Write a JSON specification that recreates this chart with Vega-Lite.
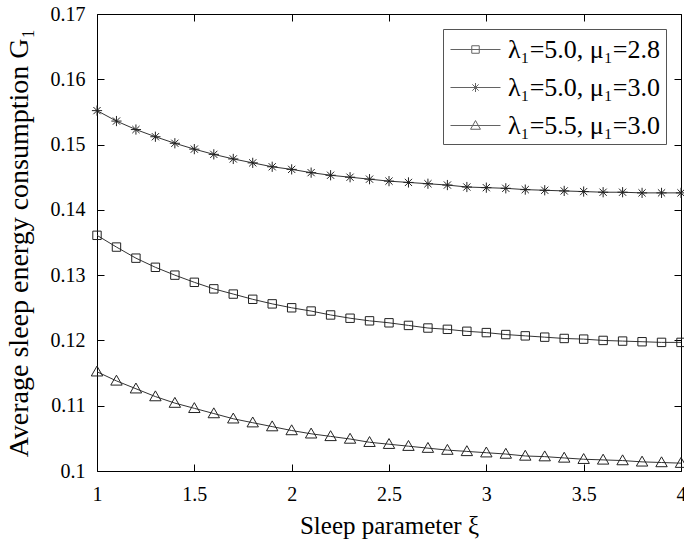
{
  "$schema": "https://vega.github.io/schema/vega-lite/v6.json",
  "width": 584,
  "height": 457,
  "autosize": "none",
  "padding": {"left": 97, "top": 14, "right": 3, "bottom": 72},
  "background": "white",
  "config": {
    "view": {"stroke": "black", "strokeWidth": 1},
    "font": "Liberation Serif",
    "axis": {
      "domain": false,
      "grid": false,
      "tickColor": "black",
      "tickSize": -7,
      "tickWidth": 1,
      "labelFont": "Liberation Serif",
      "labelFontSize": 20,
      "labelColor": "black",
      "titleFont": "Liberation Serif",
      "titleFontSize": 24,
      "titleFontWeight": "normal",
      "titleColor": "black"
    }
  },
  "datasets": {
    "rows": [
      {"x": 1.0, "series": "λ₁=5.0, μ₁=3.0", "g": 0.1552},
      {"x": 1.1, "series": "λ₁=5.0, μ₁=3.0", "g": 0.1536},
      {"x": 1.2, "series": "λ₁=5.0, μ₁=3.0", "g": 0.1523},
      {"x": 1.3, "series": "λ₁=5.0, μ₁=3.0", "g": 0.1512},
      {"x": 1.4, "series": "λ₁=5.0, μ₁=3.0", "g": 0.1502},
      {"x": 1.5, "series": "λ₁=5.0, μ₁=3.0", "g": 0.1493},
      {"x": 1.6, "series": "λ₁=5.0, μ₁=3.0", "g": 0.1485},
      {"x": 1.7, "series": "λ₁=5.0, μ₁=3.0", "g": 0.1478},
      {"x": 1.8, "series": "λ₁=5.0, μ₁=3.0", "g": 0.1472},
      {"x": 1.9, "series": "λ₁=5.0, μ₁=3.0", "g": 0.1466},
      {"x": 2.0, "series": "λ₁=5.0, μ₁=3.0", "g": 0.1462},
      {"x": 2.1, "series": "λ₁=5.0, μ₁=3.0", "g": 0.1457},
      {"x": 2.2, "series": "λ₁=5.0, μ₁=3.0", "g": 0.1453},
      {"x": 2.3, "series": "λ₁=5.0, μ₁=3.0", "g": 0.1450},
      {"x": 2.4, "series": "λ₁=5.0, μ₁=3.0", "g": 0.1447},
      {"x": 2.5, "series": "λ₁=5.0, μ₁=3.0", "g": 0.1444},
      {"x": 2.6, "series": "λ₁=5.0, μ₁=3.0", "g": 0.1442},
      {"x": 2.7, "series": "λ₁=5.0, μ₁=3.0", "g": 0.1440},
      {"x": 2.8, "series": "λ₁=5.0, μ₁=3.0", "g": 0.1438},
      {"x": 2.9, "series": "λ₁=5.0, μ₁=3.0", "g": 0.1435},
      {"x": 3.0, "series": "λ₁=5.0, μ₁=3.0", "g": 0.1434},
      {"x": 3.1, "series": "λ₁=5.0, μ₁=3.0", "g": 0.1433},
      {"x": 3.2, "series": "λ₁=5.0, μ₁=3.0", "g": 0.1431},
      {"x": 3.3, "series": "λ₁=5.0, μ₁=3.0", "g": 0.1430},
      {"x": 3.4, "series": "λ₁=5.0, μ₁=3.0", "g": 0.1429},
      {"x": 3.5, "series": "λ₁=5.0, μ₁=3.0", "g": 0.1428},
      {"x": 3.6, "series": "λ₁=5.0, μ₁=3.0", "g": 0.1427},
      {"x": 3.7, "series": "λ₁=5.0, μ₁=3.0", "g": 0.1427},
      {"x": 3.8, "series": "λ₁=5.0, μ₁=3.0", "g": 0.1426},
      {"x": 3.9, "series": "λ₁=5.0, μ₁=3.0", "g": 0.1426},
      {"x": 4.0, "series": "λ₁=5.0, μ₁=3.0", "g": 0.1426},
      {"x": 1.0, "series": "λ₁=5.0, μ₁=2.8", "g": 0.1361},
      {"x": 1.1, "series": "λ₁=5.0, μ₁=2.8", "g": 0.1343},
      {"x": 1.2, "series": "λ₁=5.0, μ₁=2.8", "g": 0.1326},
      {"x": 1.3, "series": "λ₁=5.0, μ₁=2.8", "g": 0.1312},
      {"x": 1.4, "series": "λ₁=5.0, μ₁=2.8", "g": 0.1300},
      {"x": 1.5, "series": "λ₁=5.0, μ₁=2.8", "g": 0.1289},
      {"x": 1.6, "series": "λ₁=5.0, μ₁=2.8", "g": 0.1279},
      {"x": 1.7, "series": "λ₁=5.0, μ₁=2.8", "g": 0.1271},
      {"x": 1.8, "series": "λ₁=5.0, μ₁=2.8", "g": 0.1263},
      {"x": 1.9, "series": "λ₁=5.0, μ₁=2.8", "g": 0.1256},
      {"x": 2.0, "series": "λ₁=5.0, μ₁=2.8", "g": 0.1250},
      {"x": 2.1, "series": "λ₁=5.0, μ₁=2.8", "g": 0.1245},
      {"x": 2.2, "series": "λ₁=5.0, μ₁=2.8", "g": 0.1239},
      {"x": 2.3, "series": "λ₁=5.0, μ₁=2.8", "g": 0.1234},
      {"x": 2.4, "series": "λ₁=5.0, μ₁=2.8", "g": 0.1230},
      {"x": 2.5, "series": "λ₁=5.0, μ₁=2.8", "g": 0.1227},
      {"x": 2.6, "series": "λ₁=5.0, μ₁=2.8", "g": 0.1223},
      {"x": 2.7, "series": "λ₁=5.0, μ₁=2.8", "g": 0.1219},
      {"x": 2.8, "series": "λ₁=5.0, μ₁=2.8", "g": 0.1217},
      {"x": 2.9, "series": "λ₁=5.0, μ₁=2.8", "g": 0.1214},
      {"x": 3.0, "series": "λ₁=5.0, μ₁=2.8", "g": 0.1212},
      {"x": 3.1, "series": "λ₁=5.0, μ₁=2.8", "g": 0.1209},
      {"x": 3.2, "series": "λ₁=5.0, μ₁=2.8", "g": 0.1207},
      {"x": 3.3, "series": "λ₁=5.0, μ₁=2.8", "g": 0.1205},
      {"x": 3.4, "series": "λ₁=5.0, μ₁=2.8", "g": 0.1203},
      {"x": 3.5, "series": "λ₁=5.0, μ₁=2.8", "g": 0.1202},
      {"x": 3.6, "series": "λ₁=5.0, μ₁=2.8", "g": 0.1200},
      {"x": 3.7, "series": "λ₁=5.0, μ₁=2.8", "g": 0.1199},
      {"x": 3.8, "series": "λ₁=5.0, μ₁=2.8", "g": 0.1198},
      {"x": 3.9, "series": "λ₁=5.0, μ₁=2.8", "g": 0.1197},
      {"x": 4.0, "series": "λ₁=5.0, μ₁=2.8", "g": 0.1197},
      {"x": 1.0, "series": "λ₁=5.5, μ₁=3.0", "g": 0.1152},
      {"x": 1.1, "series": "λ₁=5.5, μ₁=3.0", "g": 0.1138},
      {"x": 1.2, "series": "λ₁=5.5, μ₁=3.0", "g": 0.1126},
      {"x": 1.3, "series": "λ₁=5.5, μ₁=3.0", "g": 0.1114},
      {"x": 1.4, "series": "λ₁=5.5, μ₁=3.0", "g": 0.1104},
      {"x": 1.5, "series": "λ₁=5.5, μ₁=3.0", "g": 0.1096},
      {"x": 1.6, "series": "λ₁=5.5, μ₁=3.0", "g": 0.1088},
      {"x": 1.7, "series": "λ₁=5.5, μ₁=3.0", "g": 0.1080},
      {"x": 1.8, "series": "λ₁=5.5, μ₁=3.0", "g": 0.1074},
      {"x": 1.9, "series": "λ₁=5.5, μ₁=3.0", "g": 0.1068},
      {"x": 2.0, "series": "λ₁=5.5, μ₁=3.0", "g": 0.1062},
      {"x": 2.1, "series": "λ₁=5.5, μ₁=3.0", "g": 0.1057},
      {"x": 2.2, "series": "λ₁=5.5, μ₁=3.0", "g": 0.1053},
      {"x": 2.3, "series": "λ₁=5.5, μ₁=3.0", "g": 0.1049},
      {"x": 2.4, "series": "λ₁=5.5, μ₁=3.0", "g": 0.1044},
      {"x": 2.5, "series": "λ₁=5.5, μ₁=3.0", "g": 0.1041},
      {"x": 2.6, "series": "λ₁=5.5, μ₁=3.0", "g": 0.1038},
      {"x": 2.7, "series": "λ₁=5.5, μ₁=3.0", "g": 0.1035},
      {"x": 2.8, "series": "λ₁=5.5, μ₁=3.0", "g": 0.1032},
      {"x": 2.9, "series": "λ₁=5.5, μ₁=3.0", "g": 0.1030},
      {"x": 3.0, "series": "λ₁=5.5, μ₁=3.0", "g": 0.1028},
      {"x": 3.1, "series": "λ₁=5.5, μ₁=3.0", "g": 0.1026},
      {"x": 3.2, "series": "λ₁=5.5, μ₁=3.0", "g": 0.1023},
      {"x": 3.3, "series": "λ₁=5.5, μ₁=3.0", "g": 0.1022},
      {"x": 3.4, "series": "λ₁=5.5, μ₁=3.0", "g": 0.1020},
      {"x": 3.5, "series": "λ₁=5.5, μ₁=3.0", "g": 0.1018},
      {"x": 3.6, "series": "λ₁=5.5, μ₁=3.0", "g": 0.1017},
      {"x": 3.7, "series": "λ₁=5.5, μ₁=3.0", "g": 0.1016},
      {"x": 3.8, "series": "λ₁=5.5, μ₁=3.0", "g": 0.1014},
      {"x": 3.9, "series": "λ₁=5.5, μ₁=3.0", "g": 0.1013},
      {"x": 4.0, "series": "λ₁=5.5, μ₁=3.0", "g": 0.1012}
    ]
  },
  "data": {"name": "rows"},
  "layer": [
    {
      "mark": {"type": "line", "color": "#333333", "strokeWidth": 1},
      "encoding": {
        "x": {
          "field": "x", "type": "quantitative",
          "scale": {"domain": [1, 4], "nice": false, "zero": false},
          "axis": {"orient": "bottom", "values": [1, 1.5, 2, 2.5, 3, 3.5, 4], "format": "~g", "labelPadding": 20, "title": "Sleep parameter ξ", "titleFontSize": 25, "titlePadding": 9, "labelFlush": false}
        },
        "y": {
          "field": "g", "type": "quantitative",
          "scale": {"domain": [0.1, 0.17], "nice": false, "zero": false},
          "axis": {"orient": "left", "values": [0.1, 0.11, 0.12, 0.13, 0.14, 0.15, 0.16, 0.17], "format": ".2~f", "labelPadding": 19, "title": "Average sleep energy consumption   G₁", "titleFontSize": 28, "titlePadding": 17, "labelFlush": false}
        },
        "detail": {"field": "series", "type": "nominal"}
      }
    },
    {
      "mark": {"type": "point", "filled": false, "size": 144, "stroke": "#222222", "strokeWidth": 1, "opacity": 1},
      "encoding": {
        "x": {"field": "x", "type": "quantitative", "axis": null},
        "y": {"field": "g", "type": "quantitative", "axis": null},
        "shape": {
          "field": "series", "type": "nominal",
          "scale": {
            "domain": ["λ₁=5.0, μ₁=2.8", "λ₁=5.0, μ₁=3.0", "λ₁=5.5, μ₁=3.0"],
            "range": [
              "M-0.7,-0.7H0.7V0.7H-0.7Z",
              "M-0.85,0H0.85M0,-0.85V0.85M-0.6,-0.6L0.6,0.6M-0.6,0.6L0.6,-0.6",
              "M0,-0.95L0.95,0.7L-0.95,0.7Z"
            ]
          },
          "legend": null
        }
      }
    },
    {
      "mark": {"type": "point", "filled": false, "size": 0, "stroke": "#222222", "strokeWidth": 1},
      "encoding": {
        "x": {"field": "x", "type": "quantitative", "axis": null},
        "y": {"field": "g", "type": "quantitative", "axis": null},
        "shape": {
          "field": "series", "type": "nominal",
          "scale": {
            "domain": ["λ₁=5.0, μ₁=2.8", "λ₁=5.0, μ₁=3.0", "λ₁=5.5, μ₁=3.0"],
            "range": [
              "M-1.667,0H1.667M-0.25,-0.25H0.25V0.25H-0.25Z",
              "M-1.667,0H1.667M0,-0.3V0.3M-0.21,-0.21L0.21,0.21M-0.21,0.21L0.21,-0.21",
              "M-1.667,0H1.667M0,-0.33L0.33,0.25L-0.33,0.25Z"
            ]
          },
          "legend": {
            "title": null,
            "orient": "none",
            "legendX": 346,
            "legendY": 15,
            "strokeColor": "#555555",
            "fillColor": "white",
            "padding": 5,
            "rowPadding": 9,
            "symbolSize": 900,
            "symbolOffset": 12,
            "labelOffset": 17,
            "symbolStrokeColor": "#222222",
            "symbolStrokeWidth": 1,
            "symbolFillColor": "transparent",
            "labelFont": "Liberation Serif",
            "labelFontSize": 26,
            "labelColor": "black",
            "labelLimit": 300,
            "labelExpr": "datum.label + '    '"
          }
        }
      }
    },
    {
      "mark": {"type": "line", "opacity": 0},
      "encoding": {
        "x": {"field": "x", "type": "quantitative", "axis": {"orient": "top", "values": [1, 1.5, 2, 2.5, 3, 3.5, 4], "labels": false, "title": null}},
        "y": {"field": "g", "type": "quantitative", "axis": {"orient": "right", "values": [0.1, 0.11, 0.12, 0.13, 0.14, 0.15, 0.16, 0.17], "labels": false, "title": null}},
        "detail": {"field": "series", "type": "nominal"}
      }
    }
  ],
  "resolve": {"axis": {"x": "independent", "y": "independent"}, "scale": {"shape": "independent"}}
}
